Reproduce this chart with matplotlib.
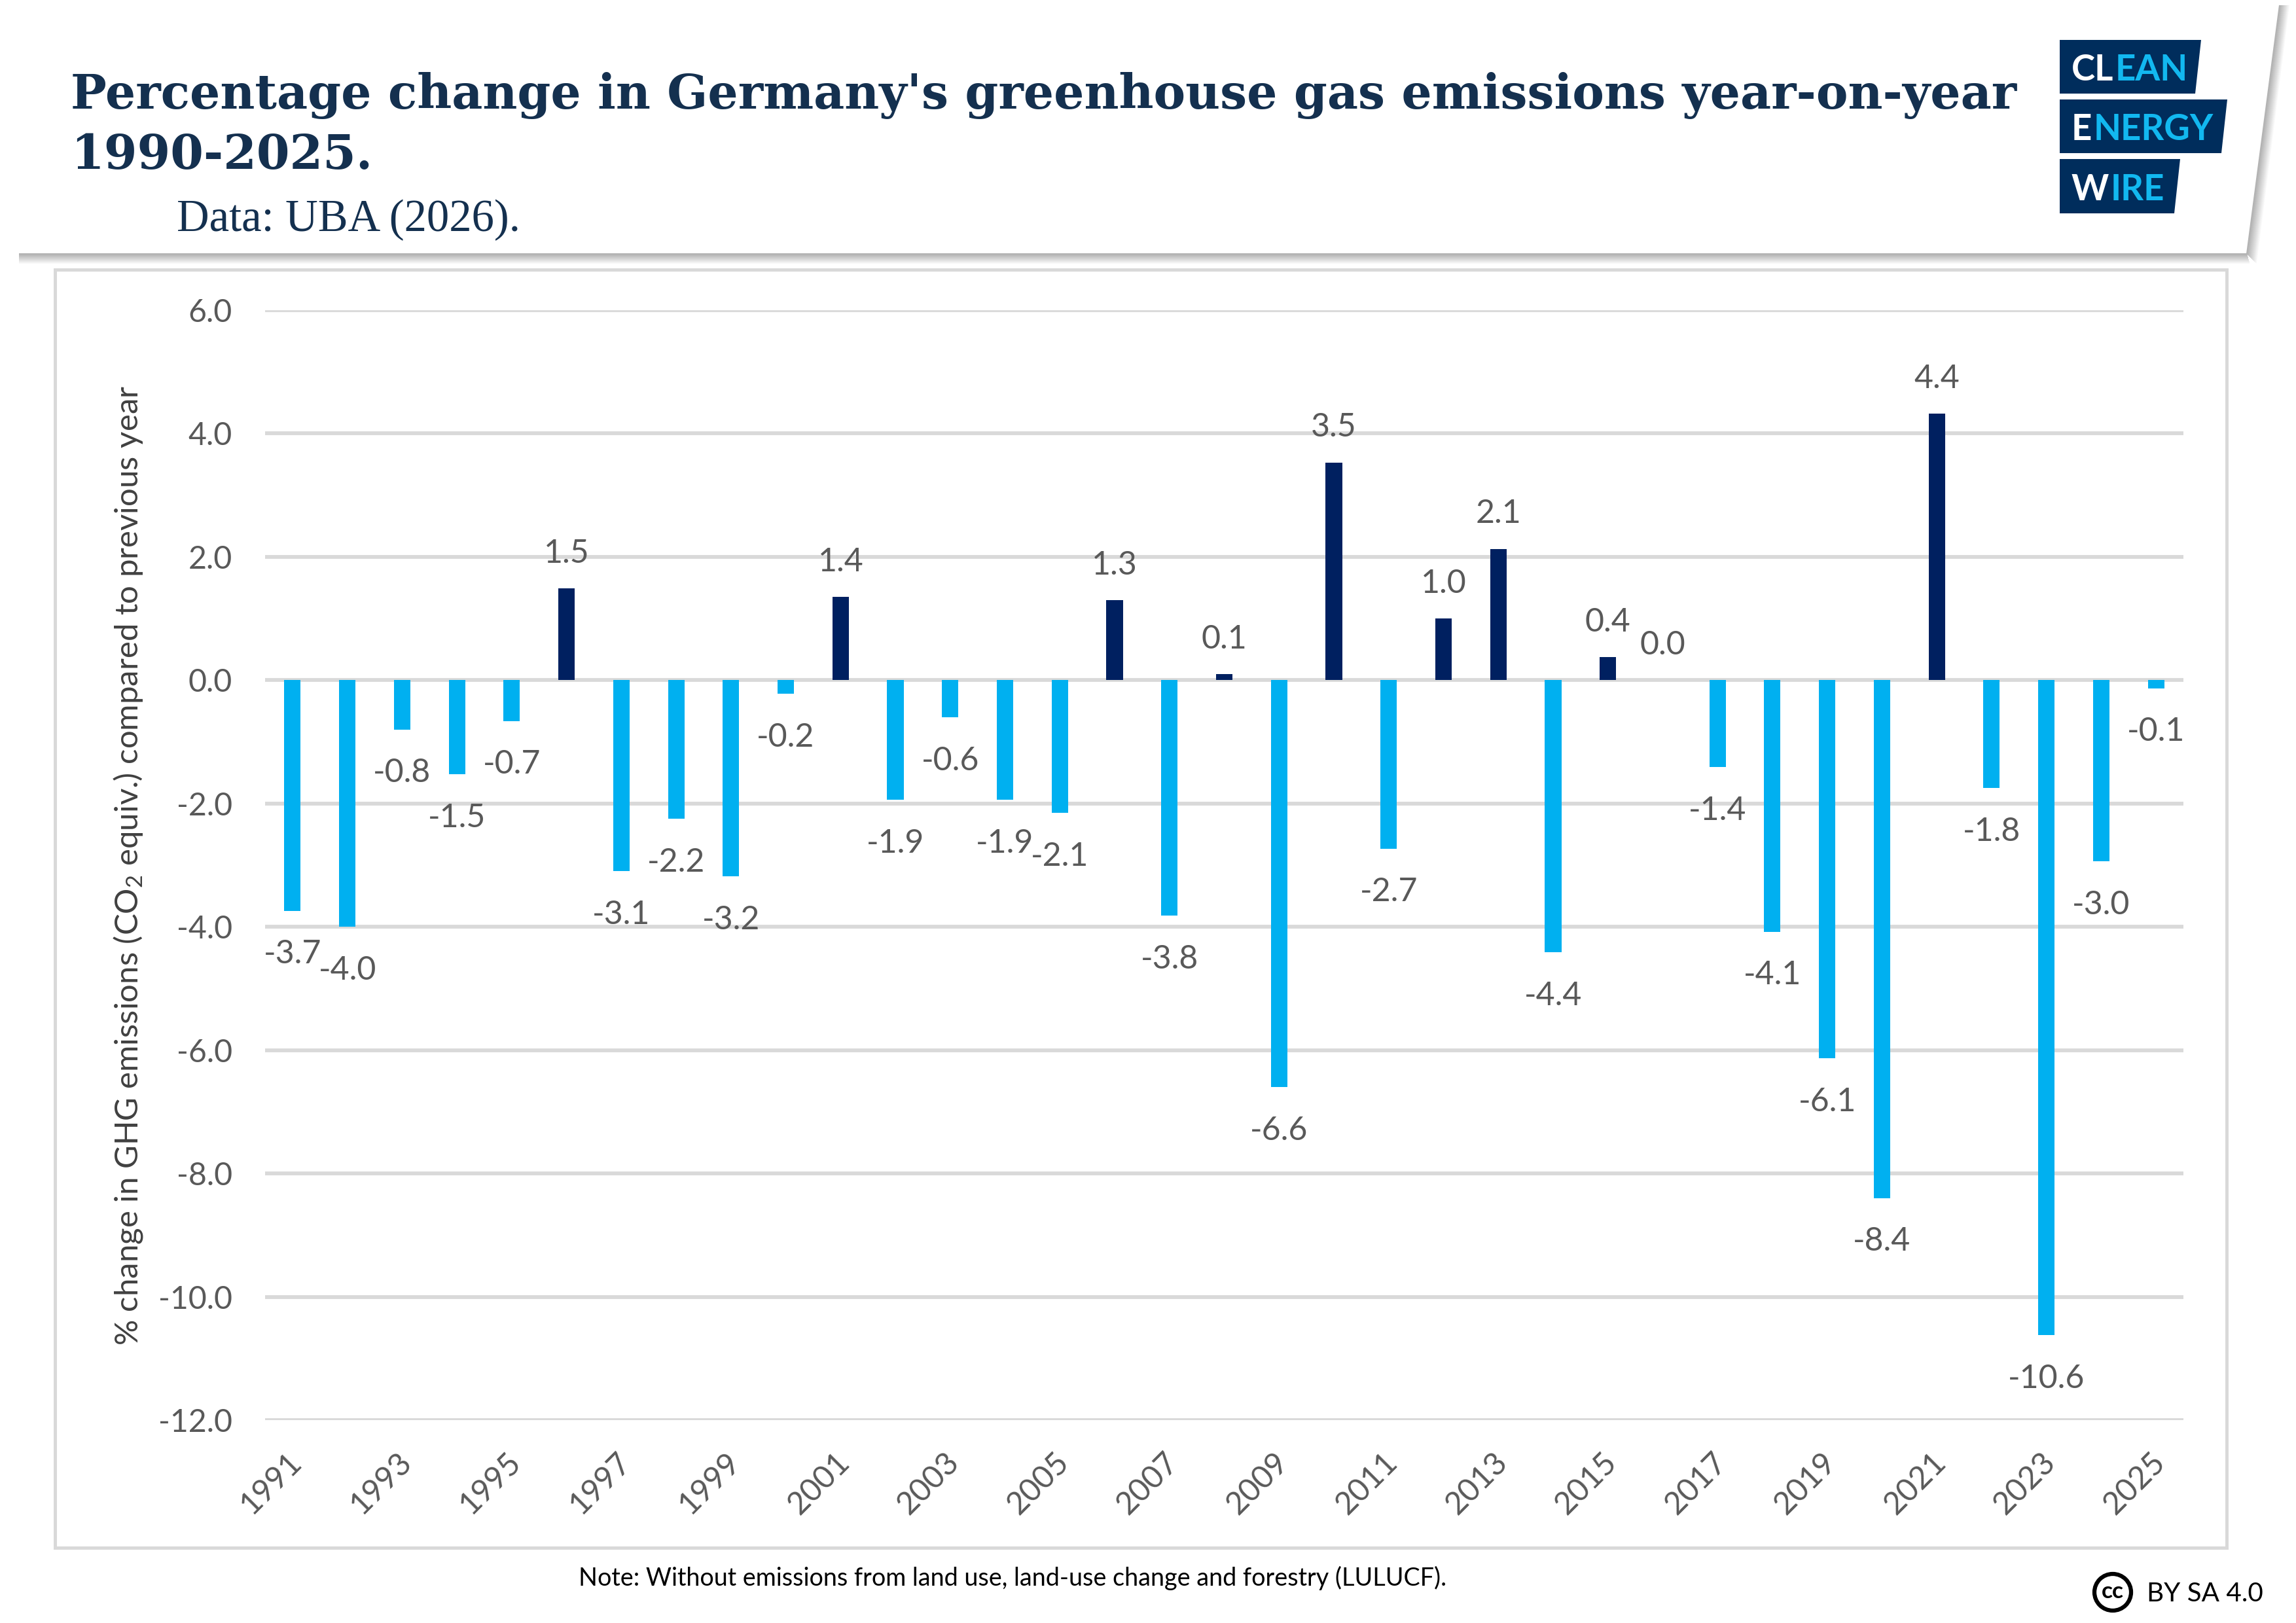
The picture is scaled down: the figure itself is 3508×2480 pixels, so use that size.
import numpy as np, matplotlib
matplotlib.use("Agg")
import matplotlib.pyplot as plt
from matplotlib.patches import Polygon, Circle, Rectangle
from matplotlib.transforms import ScaledTranslation

plt.rcParams['font.family'] = ['Lato', 'DejaVu Sans']
plt.rcParams['mathtext.fontset'] = 'custom'
plt.rcParams['mathtext.rm'] = 'Lato'
plt.rcParams['mathtext.default'] = 'rm'

# ---- data ----
years = list(range(1991, 2026))
# printed labels
change = [-3.7, -4.0, -0.8, -1.5, -0.7, 1.5, -3.1, -2.2, -3.2, -0.2,
          1.4, -1.9, -0.6, -1.9, -2.1, 1.3, -3.8, 0.1, -6.6, 3.5,
          -2.7, 1.0, 2.1, -4.4, 0.4, 0.0, -1.4, -4.1, -6.1, -8.4,
          4.4, -1.8, -10.6, -3.0, -0.1]
# bar ends as drawn, these differ a little from the printed labels
bar_ends = [-3.74, -4.0, -0.8, -1.53, -0.66, 1.49, -3.1, -2.25, -3.18, -0.22,
            1.35, -1.94, -0.6, -1.94, -2.15, 1.3, -3.82, 0.1, -6.6, 3.53,
            -2.73, 1.0, 2.13, -4.41, 0.37, 0.0, -1.41, -4.08, -6.13, -8.4,
            4.32, -1.75, -10.62, -2.94, -0.13]
y_ticks = [6, 4, 2, 0, -2, -4, -6, -8, -10, -12]
y_ticklabels = ['6.0', '4.0', '2.0', '0.0', '-2.0', '-4.0', '-6.0', '-8.0', '-10.0', '-12.0']
x_ticks = years[::2]

title_lines = ["Percentage change in Germany's greenhouse gas emissions year-on-year", "1990-2025."]
source = "Data: UBA (2026)."
ylabel = r"% change in GHG emissions (CO$_2$ equiv.) compared to previous year"
note = "Note: Without emissions from land use, land-use change and forestry (LULUCF)."

W, H = 3508, 2480
NEG = '#00B0F0'; POS = '#002060'; GRID = '#D9D9D9'; GREY = '#595959'
INK = '#14304F'; LOGO = '#002D5C'; CYAN = '#12B8F0'

fig = plt.figure(figsize=(W/300, H/300), dpi=300)

# overlay in pixel coords for header card, frame, logo
bg = fig.add_axes([0, 0, 1, 1], zorder=0)
bg.set_xlim(0, W); bg.set_ylim(H, 0); bg.axis('off')

# card shadow, fades out away from the card
for k in range(16):
    c = str(0.70 + 0.30*k/15)
    bg.plot([29, 3433+k*0.3], [388+k, 388+k], color=c, lw=0.5, solid_capstyle='butt', zorder=1-k*0.01)
    bg.plot([3483+k, 3433+k], [8, 388+k], color=c, lw=0.5, solid_capstyle='butt', zorder=1-k*0.01)

# chart frame
bg.add_patch(Rectangle((84, 412), 3402-84, 2365-412, fc='white', ec=GRID, lw=1.2))

# logo
logo_rows = [(61, 143, 3363, 3354, [('CL', 'white'), ('EAN', CYAN)]),
             (152, 234, 3403, 3394, [('E', 'white'), ('NERGY', CYAN)]),
             (243, 326, 3331, 3322, [('W', 'white'), ('IRE', CYAN)])]
fig.canvas.draw()
rend = fig.canvas.get_renderer()
for top, bot, xr_t, xr_b, pieces in logo_rows:
    bg.add_patch(Polygon([(3147, top), (xr_t, top), (xr_b, bot), (3147, bot)], fc=LOGO, ec='none', zorder=3))
    x = 3165
    for s, c in pieces:
        t = bg.text(x, bot-20, s, color=c, fontsize=13.1, fontweight='bold', ha='left', va='baseline', zorder=4)
        x += t.get_window_extent(rend).width + 2

# header text
bg.text(108, 166, title_lines[0], fontsize=17.5, fontweight='bold', family='DejaVu Serif', color=INK, va='baseline')
bg.text(108, 258, title_lines[1], fontsize=17.5, fontweight='bold', family='DejaVu Serif', color=INK, va='baseline')
bg.text(270, 353, source, fontsize=16.5, family='Liberation Serif', color=INK, va='baseline')

# footer
bg.text(884, 2411, note, fontsize=9.07, color='black', va='center')
bg.add_patch(Circle((3228, 2433), 28, fc='white', ec='black', lw=1.5))
bg.text(3228, 2432, 'cc', fontsize=8.5, fontweight='bold', color='black', ha='center', va='center')
bg.text(3280, 2447, 'BY SA 4.0', fontsize=9.7, color='black', va='baseline')

# ---- the chart ----
ax = fig.add_axes([405/W, 1-2170/H, (3336-405)/W, (2170-474)/H], zorder=2)
ax.patch.set_alpha(0)
ax.bar(years, bar_ends, width=0.3, color=[POS if v > 0 else NEG for v in bar_ends], zorder=3)
ax.set_xlim(1990.5, 2025.5); ax.set_ylim(-12, 6)
ax.set_yticks(y_ticks); ax.set_yticklabels(y_ticklabels)
ax.set_xticks(x_ticks)
ax.set_xticklabels(x_ticks, rotation=45, ha='right', va='top', rotation_mode='anchor')
ax.tick_params(axis='both', length=0, labelsize=11.6, labelcolor=GREY)
ax.tick_params(axis='y', pad=12)
ax.tick_params(axis='x', pad=10)
# year labels sit a bit left of their bars
shift = ScaledTranslation(-9/300, 0, fig.dpi_scale_trans)
for lab in ax.get_xticklabels():
    lab.set_transform(lab.get_transform() + shift)
ax.grid(axis='y', color=GRID, lw=1.4, zorder=0)
ax.set_axisbelow(True)
for s in ax.spines.values():
    s.set_visible(False)
ax.set_ylabel(ylabel, fontsize=11.8, color='#404040', labelpad=5)

for yr, lab, v in zip(years, change, bar_ends):
    off = 12.8 if v >= 0 else -16
    ax.annotate(f"{lab:.1f}", (yr, v), xytext=(0, off), textcoords='offset points',
                ha='center', va='center', fontsize=12, color=GREY, zorder=4, annotation_clip=False)

fig.savefig('out.png', dpi=300)
